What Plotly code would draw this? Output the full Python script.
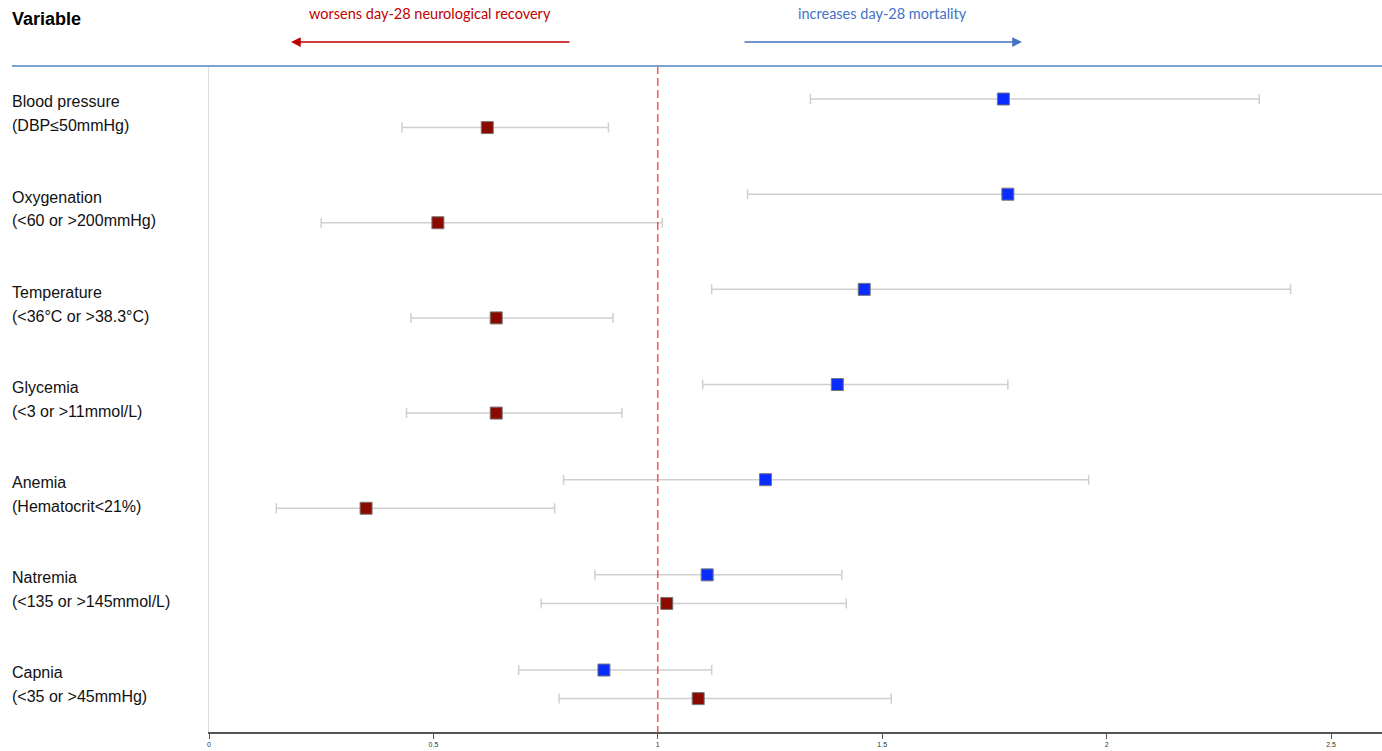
import plotly.graph_objects as go

variables = ["Blood pressure", "Oxygenation", "Temperature", "Glycemia", "Anemia", "Natremia", "Capnia"]
criteria = ["(DBP≤50mmHg)", "(<60 or >200mmHg)", "(<36°C or >38.3°C)", "(<3 or >11mmol/L)",
            "(Hematocrit<21%)", "(<135 or >145mmol/L)", "(<35 or >45mmHg)"]
mort_est = [1.77, 1.78, 1.46, 1.40, 1.24, 1.11, 0.88]
mort_lo = [1.34, 1.20, 1.12, 1.10, 0.79, 0.86, 0.69]
mort_hi = [2.34, 2.70, 2.41, 1.78, 1.96, 1.41, 1.12]
neuro_est = [0.62, 0.51, 0.64, 0.64, 0.35, 1.02, 1.09]
neuro_lo = [0.43, 0.25, 0.45, 0.44, 0.15, 0.74, 0.78]
neuro_hi = [0.89, 1.01, 0.90, 0.92, 0.77, 1.42, 1.52]
tick_vals = [0, 0.5, 1, 1.5, 2, 2.5]
tick_text = ["0", "0.5", "1", "1.5", "2", "2.5"]

n = len(variables)
y_mort = [i for i in range(n)]
y_neuro = [i + 0.3 for i in range(n)]
Y_TOP, Y_BOT = -0.347, 6.651

fig = go.Figure()

def err_trace(x, lo, hi, y):
    return go.Scatter(
        x=x, y=y, mode="markers", marker=dict(size=1, color="rgba(0,0,0,0)"),
        error_x=dict(type="data", symmetric=False,
                     array=[h - e for h, e in zip(hi, x)],
                     arrayminus=[e - l for e, l in zip(x, lo)],
                     color="#cfcfcf", thickness=1.5, width=5),
        showlegend=False, hoverinfo="skip")

fig.add_trace(err_trace(mort_est, mort_lo, mort_hi, y_mort))
fig.add_trace(err_trace(neuro_est, neuro_lo, neuro_hi, y_neuro))

# reference line at 1
fig.add_trace(go.Scatter(x=[1, 1], y=[Y_TOP, Y_BOT], mode="lines",
                         line=dict(color="#ff2a2a", width=1.2, dash="8px,4px"),
                         showlegend=False, hoverinfo="skip"))

fig.add_trace(go.Scatter(x=mort_est, y=y_mort, mode="markers",
                         marker=dict(symbol="square", size=12, color="#0a2cff",
                                     line=dict(color="#777777", width=1)),
                         name="day-28 mortality", showlegend=False))
fig.add_trace(go.Scatter(x=neuro_est, y=y_neuro, mode="markers",
                         marker=dict(symbol="square", size=12, color="#8b0a00",
                                     line=dict(color="#777777", width=1)),
                         name="day-28 neurological recovery", showlegend=False))

PLOT_L, PLOT_W = 209, 1173
label_x = (10 - PLOT_L) / PLOT_W
line_x0 = (12 - PLOT_L) / PLOT_W
LABEL_FONT = dict(family="Liberation Sans, Arial", size=16, color="#111111")
annotations = []
for i in range(n):
    annotations.append(dict(x=label_x, xref="paper", y=i + 0.03, yref="y", text=variables[i],
                            showarrow=False, xanchor="left", yanchor="middle", font=LABEL_FONT))
    annotations.append(dict(x=label_x, xref="paper", y=i + 0.28, yref="y", text=criteria[i],
                            showarrow=False, xanchor="left", yanchor="middle", font=LABEL_FONT))

def px_x(px):
    return (px - PLOT_L) / PLOT_W

def px_y(py):
    return (732 - py) / 666

annotations.append(dict(x=label_x, xref="paper", y=px_y(19), yref="paper", text="<b>Variable</b>",
                        showarrow=False, xanchor="left", yanchor="middle",
                        font=dict(family="Liberation Sans, Arial", size=18, color="#000000")))
annotations.append(dict(x=px_x(430), xref="paper", y=px_y(14), yref="paper",
                        text="worsens day-28 neurological recovery", showarrow=False,
                        xanchor="center", yanchor="middle",
                        font=dict(family="Lato, Open Sans", size=14.5, color="#c00000")))
annotations.append(dict(x=px_x(882), xref="paper", y=px_y(14), yref="paper",
                        text="increases day-28 mortality", showarrow=False,
                        xanchor="center", yanchor="middle",
                        font=dict(family="Lato, Open Sans", size=14.5, color="#4472c4")))
# arrows
annotations.append(dict(x=px_x(291), xref="paper", y=px_y(42), yref="paper", text="",
                        showarrow=True, ax=280, ay=0, arrowhead=2, arrowsize=1.5,
                        arrowwidth=1.3, arrowcolor="#c00000", standoff=0))
annotations.append(dict(x=px_x(1022), xref="paper", y=px_y(42), yref="paper", text="",
                        showarrow=True, ax=-279, ay=0, arrowhead=2, arrowsize=1.5,
                        arrowwidth=1.3, arrowcolor="#4472c4", standoff=0))

shapes = [
    dict(type="line", xref="paper", yref="paper", x0=line_x0, x1=1, y0=1.0, y1=1.0,
         line=dict(color="#7ba3cc", width=2)),
]

fig.update_layout(
    width=1382, height=751,
    margin=dict(l=PLOT_L, r=0, t=66, b=19),
    paper_bgcolor="white", plot_bgcolor="white",
    annotations=annotations, shapes=shapes,
    xaxis=dict(range=[0, 1173 / 448.8], tickvals=tick_vals, ticktext=tick_text,
               showgrid=False, zeroline=False, showline=True, linecolor="#555555", linewidth=1.5,
               ticks="outside", ticklen=5, tickcolor="#555555", tickwidth=1.2,
               tickfont=dict(family="Liberation Sans, Arial", size=7, color="#333333")),
    yaxis=dict(range=[Y_BOT, Y_TOP], showgrid=False, zeroline=False, showticklabels=False,
               showline=True, linecolor="#dddddd", linewidth=1, ticks=""),
)

fig.write_html("out.html", config={"displayModeBar": False},
               post_script="document.body.style.margin='0';document.body.style.overflow='hidden';")
